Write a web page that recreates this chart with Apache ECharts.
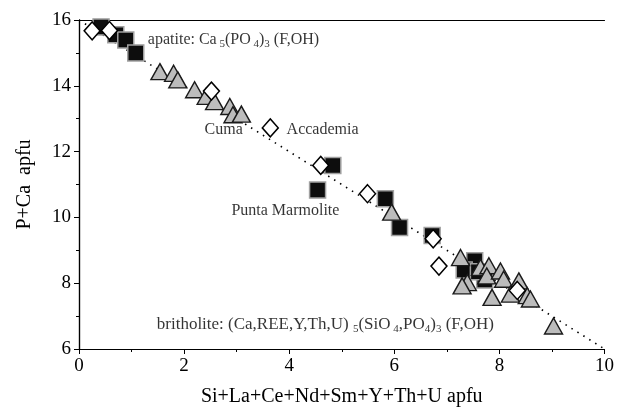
<!DOCTYPE html>
<html>
<head>
<meta charset="utf-8">
<script src="https://cdn.jsdelivr.net/npm/echarts@6/dist/echarts.min.js"></script>
<style>
  html, body { margin: 0; padding: 0; background: #fff; }
  #chart { width: 617px; height: 412px; }
</style>
</head>
<body>
<div id="chart"></div>
<script>
// Apatite–britholite substitution trend: P+Ca vs. Si+REE+Y+Th+U (apfu)
const xTicks = [0, 2, 4, 6, 8, 10];
const yTicks = [6, 8, 10, 12, 14, 16];

// Open diamonds
const diamondX = [0.25, 0.58, 2.52, 3.64, 4.60, 5.49, 6.74, 6.85, 8.34];
const diamondY = [15.67, 15.68, 13.84, 12.72, 11.58, 10.72, 9.35, 8.52, 7.78];

// Filled squares
const squareX = [0.42, 0.70, 0.89, 1.08, 4.83, 4.54, 5.83, 6.10, 6.72, 7.53, 7.33, 7.72, 7.60];
const squareY = [15.79, 15.55, 15.39, 15.00, 11.58, 10.83, 10.57, 9.69, 9.45, 8.68, 8.40, 8.10, 8.35];

// Grey triangles
const triangleX = [1.54, 1.80, 1.88, 2.20, 2.42, 2.58, 2.87, 2.93, 3.09,
                   5.95, 7.26, 7.39, 7.29, 7.64, 7.80, 7.76, 8.02, 8.08, 8.37, 8.21, 7.86, 8.53, 8.59, 9.03];
const triangleY = [14.43, 14.38, 14.18, 13.88, 13.68, 13.52, 13.37, 13.12, 13.14,
                   10.16, 8.78, 8.02, 7.92, 8.48, 8.53, 8.22, 8.37, 8.12, 8.07, 7.67, 7.57, 7.62, 7.52, 6.70];

// Ideal substitution line: P+Ca = 16 − (Si+REE…)
const trendX = [0, 10];
const trendY = [16, 6];

// Annotations (anchor in data units, text left-aligned from the anchor)
const noteX = [1.31, 2.39, 3.95, 2.90, 1.48];
const noteY = [15.39, 12.67, 12.67, 10.21, 6.73];
const noteText = [
  'apatite: Ca{s| 5}(PO{s| 4}){s|3} (F,OH)',
  'Cuma',
  'Accademia',
  'Punta Marmolite',
  'britholite: (Ca,REE,Y,Th,U) {s|5}(SiO{s| 4},PO{s|4}){s|3} (F,OH)'
];
const noteSize = [16, 16, 16, 16, 17];

const zip = (xs, ys) => xs.map((x, i) => [x, ys[i]]);
const FONT = '"Liberation Serif", "DejaVu Serif", serif';

const chart = echarts.init(document.getElementById('chart'));
const baseAxisLine = { show: true, lineStyle: { color: '#000', width: 1.2 } };

chart.setOption({
  animation: false,
  backgroundColor: '#fff',
  grid: { left: 79, right: 11, top: 20, bottom: 62 },
  xAxis: [
    {
      type: 'value', min: xTicks[0], max: xTicks[xTicks.length - 1], interval: 2,
      axisLine: baseAxisLine,
      axisTick: { show: true, inside: false, length: 5, lineStyle: { color: '#000' } },
      minorTick: { show: true, splitNumber: 2, length: 3, lineStyle: { color: '#000' } },
      splitLine: { show: false },
      axisLabel: { color: '#000', fontFamily: FONT, fontSize: 19, margin: 8 },
      name: 'Si+La+Ce+Nd+Sm+Y+Th+U apfu',
      nameLocation: 'middle', nameGap: 38,
      nameTextStyle: { color: '#000', fontFamily: FONT, fontSize: 20 }
    },
    {
      type: 'value', position: 'top', min: 0, max: 10,
      axisLine: baseAxisLine, axisTick: { show: false }, axisLabel: { show: false },
      splitLine: { show: false }
    }
  ],
  yAxis: [
    {
      type: 'value', min: yTicks[0], max: yTicks[yTicks.length - 1], interval: 2,
      axisLine: baseAxisLine,
      axisTick: { show: true, inside: false, length: 5, lineStyle: { color: '#000' } },
      minorTick: { show: true, splitNumber: 2, length: 3, lineStyle: { color: '#000' } },
      splitLine: { show: false },
      axisLabel: { color: '#000', fontFamily: FONT, fontSize: 19, margin: 8 },
      name: 'P+Ca  apfu',
      nameLocation: 'middle', nameGap: 44,
      nameTextStyle: { color: '#000', fontFamily: FONT, fontSize: 20 }
    },
    {
      type: 'value', position: 'right', min: 6, max: 16,
      axisLine: baseAxisLine, axisTick: { show: false }, axisLabel: { show: false },
      splitLine: { show: false }
    }
  ],
  series: [
    {
      type: 'line', data: zip(trendX, trendY), symbol: 'none', z: 1,
      lineStyle: { color: '#000', width: 1.6, type: [1.5, 5.5] }
    },
    {
      type: 'scatter', data: zip(squareX, squareY), symbol: 'rect', symbolSize: 16, z: 2,
      itemStyle: { color: '#0d0d0d', borderColor: '#a0a0a0', borderWidth: 1.5, opacity: 1 }
    },
    {
      type: 'scatter', data: zip(triangleX, triangleY), symbol: 'triangle', symbolSize: [18, 16], z: 3,
      itemStyle: { color: '#bcbcbc', borderColor: '#1a1a1a', borderWidth: 1.4, opacity: 1 }
    },
    {
      type: 'scatter', data: zip(diamondX, diamondY), symbol: 'diamond', symbolSize: [16, 18], z: 4,
      itemStyle: { color: '#fff', borderColor: '#000', borderWidth: 1.5, opacity: 1 }
    },
    {
      type: 'scatter', symbolSize: 0, z: 5, silent: true,
      data: noteX.map((x, i) => ({
        value: [x, noteY[i]],
        label: { formatter: noteText[i], fontSize: noteSize[i] }
      })),
      label: {
        show: true, position: 'right', distance: 0,
        color: '#000', fontFamily: FONT, fontSize: 16,
        rich: { s: { fontFamily: FONT, fontSize: 11, color: '#000', padding: [9, 0, 0, 0] } }
      }
    }
  ]
});
</script>
</body>
</html>
